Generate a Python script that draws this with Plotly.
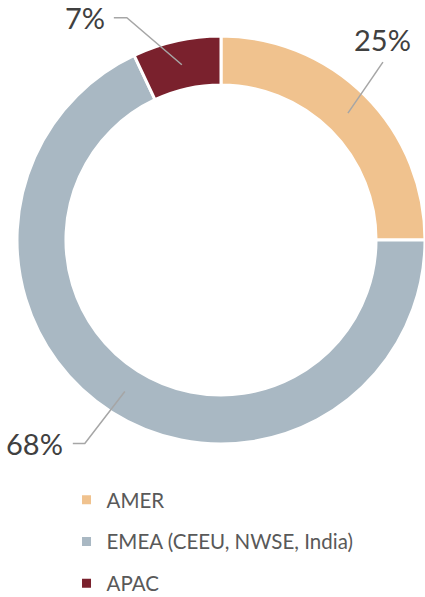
import math
import plotly.graph_objects as go

# ---- data ----
labels = ["AMER", "EMEA (CEEU, NWSE, India)", "APAC"]
values = [25, 68, 7]
pct_text = ["25%", "68%", "7%"]
colors = ["#F0C28E", "#A9B8C3", "#7A212D"]

# ---- layout / style constants ----
W, H = 425, 597
DOM_X = [0.04, 1.0]
DOM_Y = [0.2563, 0.9397]
HOLE = 0.76
# leader line offsets (px, relative to slice mid-ring point) and label anchoring
LEADER = [
    dict(pts=[(35, -51)], xanchor="center", yanchor="bottom", xs=0, ys=3),
    dict(pts=[(-40, 52), (-52, 52)], xanchor="right", yanchor="middle", xs=-8, ys=0),
    dict(pts=[(-55, -47), (-68, -47)], xanchor="right", yanchor="middle", xs=-7, ys=0),
]

fig = go.Figure()
fig.add_trace(go.Pie(
    labels=labels, values=values, sort=False, direction="clockwise", rotation=0,
    hole=HOLE, domain=dict(x=DOM_X, y=DOM_Y),
    marker=dict(colors=colors, line=dict(color="white", width=3)),
    textinfo="none", hoverinfo="label+percent", showlegend=False,
))

# legend entries via dummy traces (allow vertical spacing between entries)
for i, (lab, col) in enumerate(zip(labels, colors)):
    fig.add_trace(go.Scatter(
        x=[None], y=[None], mode="markers", name=lab, legendgroup=f"g{i}",
        marker=dict(symbol="square", size=9, color=col), showlegend=True,
    ))

# geometry of the pie in pixels
cx = (DOM_X[0] + DOM_X[1]) / 2 * W
cy = H * (1 - (DOM_Y[0] + DOM_Y[1]) / 2)
r = min((DOM_X[1] - DOM_X[0]) * W, (DOM_Y[1] - DOM_Y[0]) * H) / 2
rm = r * (1 + HOLE) / 2

def px2paper(x, y):
    return x / W, 1 - y / H

total = sum(values)
cum = 0
shapes, annotations = [], []
for v, txt, ld in zip(values, pct_text, LEADER):
    theta = 2 * math.pi * (cum + v / 2) / total
    cum += v
    ax = cx + rm * math.sin(theta)
    ay = cy - rm * math.cos(theta)
    pts = [(ax, ay)] + [(ax + dx, ay + dy) for dx, dy in ld["pts"]]
    path = ""
    for j, (px, py) in enumerate(pts):
        X, Y = px2paper(px, py)
        path += ("M" if j == 0 else " L") + f" {X:.5f} {Y:.5f}"
    shapes.append(dict(type="path", path=path, xref="paper", yref="paper",
                       line=dict(color="#A6A6A6", width=1.5)))
    ex, ey = px2paper(*pts[-1])
    annotations.append(dict(x=ex, y=ey, xref="paper", yref="paper", text=txt,
                            showarrow=False, xanchor=ld["xanchor"], yanchor=ld["yanchor"],
                            xshift=ld["xs"], yshift=ld["ys"],
                            font=dict(size=29, color="#404040")))

fig.update_layout(
    width=W, height=H, margin=dict(l=0, r=0, t=0, b=0, autoexpand=False),
    paper_bgcolor="white", plot_bgcolor="white",
    font=dict(family="Lato, 'Open Sans', sans-serif", color="#595959"),
    xaxis=dict(visible=False), yaxis=dict(visible=False),
    shapes=shapes, annotations=annotations,
    legend=dict(orientation="v", x=0.1565, xanchor="left", y=1 - 480 / H, yanchor="top",
                font=dict(size=20.5, color="#595959"), tracegroupgap=12,
                bgcolor="rgba(0,0,0,0)", itemclick=False),
)

fig.write_html("out.html", config={"displayModeBar": False},
               post_script="document.body.style.margin='0';document.body.style.overflow='hidden';")
